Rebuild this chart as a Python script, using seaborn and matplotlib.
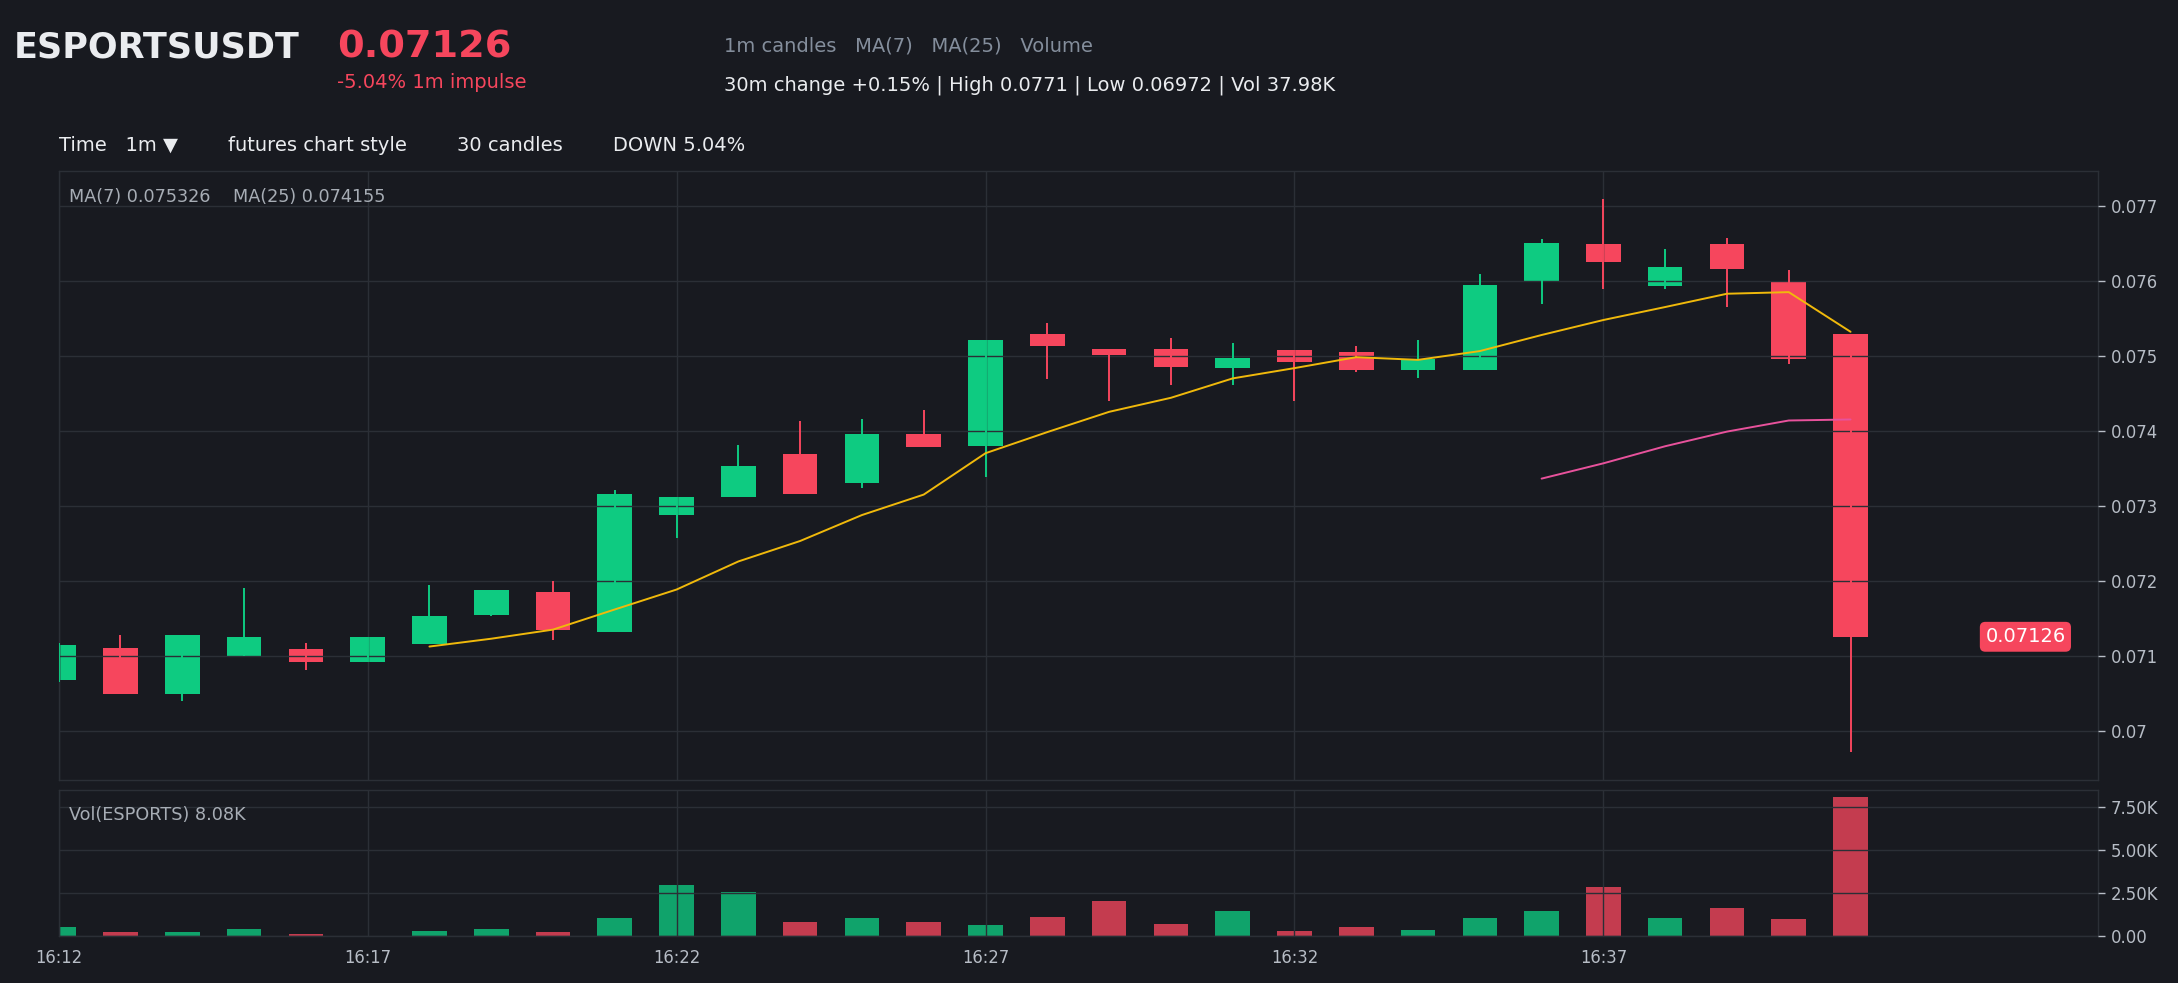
import numpy as np
import pandas as pd
import seaborn as sns
import matplotlib.pyplot as plt
from matplotlib.ticker import FuncFormatter, MultipleLocator

# 1m candles, 16:12 .. 16:41
times = ["16:12", "16:13", "16:14", "16:15", "16:16", "16:17", "16:18", "16:19", "16:20", "16:21",
         "16:22", "16:23", "16:24", "16:25", "16:26", "16:27", "16:28", "16:29", "16:30", "16:31",
         "16:32", "16:33", "16:34", "16:35", "16:36", "16:37", "16:38", "16:39", "16:40", "16:41"]
opens = [0.07068, 0.07111, 0.07050, 0.07100, 0.07110, 0.07092, 0.07116, 0.07155, 0.07186, 0.07133,
         0.07288, 0.07313, 0.07369, 0.07331, 0.07396, 0.07380, 0.07529, 0.07510, 0.07510, 0.07484,
         0.07508, 0.07505, 0.07481, 0.07481, 0.07600, 0.07650, 0.07594, 0.07650, 0.07599, 0.07530]
closes = [0.07115, 0.07050, 0.07128, 0.07126, 0.07092, 0.07126, 0.07154, 0.07188, 0.07135, 0.07316,
          0.07312, 0.07354, 0.07317, 0.07396, 0.07379, 0.07521, 0.07513, 0.07501, 0.07485, 0.07498,
          0.07492, 0.07481, 0.07496, 0.07595, 0.07651, 0.07625, 0.07619, 0.07616, 0.07496, 0.07126]
highs = [0.07118, 0.07128, 0.07128, 0.07191, 0.07118, 0.07126, 0.07195, 0.07188, 0.07200, 0.07322,
         0.07312, 0.07381, 0.07413, 0.07416, 0.07428, 0.07521, 0.07544, 0.07510, 0.07524, 0.07517,
         0.07508, 0.07513, 0.07521, 0.07609, 0.07656, 0.07710, 0.07643, 0.07658, 0.07615, 0.07530]
lows = [0.07066, 0.07050, 0.07040, 0.07100, 0.07082, 0.07092, 0.07116, 0.07154, 0.07122, 0.07132,
        0.07258, 0.07313, 0.07317, 0.07324, 0.07379, 0.07339, 0.07469, 0.07440, 0.07461, 0.07461,
        0.07440, 0.07479, 0.07471, 0.07481, 0.07570, 0.07589, 0.07590, 0.07566, 0.07490, 0.06972]
volumes = [525, 233, 233, 408, 117, 20, 291, 408, 233, 1049,
           2973, 2565, 816, 1049, 816, 641, 1108, 2040, 700, 1457,
           291, 525, 350, 1049, 1457, 2856, 1049, 1632, 991, 8080]

BG = '#181a20'
GRID = '#2b2f36'
UP = '#0ecb81'
DOWN = '#f6465d'
MA7_C = '#f0b90b'
MA25_C = '#e8529c'
TICK_C = '#b7bdc6'
MUTED = '#848e9c'
LIGHT = '#eaecef'

sns.set_theme(style='dark', rc={'axes.facecolor': BG, 'figure.facecolor': BG,
                                'axes.edgecolor': GRID, 'grid.color': GRID,
                                'text.color': LIGHT, 'xtick.color': TICK_C, 'ytick.color': TICK_C})
plt.rcParams['font.family'] = ['DejaVu Sans']

df = pd.DataFrame({'t': times, 'open': opens, 'close': closes, 'high': highs,
                   'low': lows, 'volume': volumes})
df['x'] = np.arange(len(df))
df['dir'] = np.where(df['close'] >= df['open'], 'up', 'down')
df['ma7'] = df['close'].rolling(7).mean()
df['ma25'] = df['close'].rolling(25).mean()
pal = {'up': UP, 'down': DOWN}

W, H = 2178, 983
fig = plt.figure(figsize=(W / 100, H / 100), dpi=100, facecolor=BG)


def fx(px):
    return px / W


def fy(py):
    return 1 - py / H


axp = fig.add_axes([fx(58.7), fy(780), fx(2039), (780 - 171) / H])
axv = fig.add_axes([fx(58.7), fy(936), fx(2039), (936 - 790) / H])

# candles: bodies under the grid, wicks above it
cols = df['dir'].map(pal)
axp.vlines(df['x'], df['low'], df['high'], colors=cols, lw=1.4, zorder=3)
body_lo = df[['open', 'close']].min(axis=1)
body_h = (df['close'] - df['open']).abs().clip(lower=0.00002)
axp.bar(df['x'], body_h, bottom=body_lo, width=0.56, color=cols, linewidth=0, zorder=1)
sns.lineplot(data=df, x='x', y='ma7', color=MA7_C, lw=1.4, ax=axp, zorder=4)
sns.lineplot(data=df, x='x', y='ma25', color=MA25_C, lw=1.4, ax=axp, zorder=4)

# volume
sns.barplot(data=df, x='x', y='volume', hue='dir', palette=pal, native_scale=True,
            width=0.56, dodge=False, errorbar=None, legend=False, alpha=0.78,
            saturation=1, linewidth=0, ax=axv)

lo, hi = min(lows), max(highs)
pad = 0.05 * (hi - lo)
axp.set_ylim(lo - pad, hi + pad)
axp.yaxis.set_major_locator(MultipleLocator(0.001))
axp.yaxis.set_major_formatter(FuncFormatter(lambda v, p: f'{v:g}'))
axv.set_ylim(0, max(volumes) * 1.05)
axv.set_yticks([0, 2500, 5000, 7500])
axv.yaxis.set_major_formatter(FuncFormatter(lambda v, p: '0.00' if v == 0 else f'{v / 1000:.2f}K'))

for ax in (axp, axv):
    ax.set_facecolor(BG)
    ax.set_xlim(0, 33)
    ax.set_xticks(df['x'][::5])
    ax.grid(True, color=GRID, lw=1)
    ax.set_axisbelow(False)
    ax.yaxis.tick_right()
    for s in ax.spines.values():
        s.set_visible(True)
        s.set_color(GRID)
        s.set_linewidth(1)
    ax.tick_params(colors=TICK_C, labelsize=11.9, length=4.8, width=1, pad=4.5, direction='out')
    ax.set_xlabel('')
    ax.set_ylabel('')
axp.tick_params(axis='x', labelbottom=False)
axv.set_xticklabels(times[::5])

# last price tag
axp.text(31.83, closes[-1], '0.07126', color='white', fontsize=14, ha='center', va='center',
         bbox=dict(boxstyle='round,pad=0.28', facecolor=DOWN, edgecolor='none'), zorder=6)

axp.text(fx(69 - 58.7) / fx(2039), 1 - (197.5 - 171) / (780 - 171),
         'MA(7) 0.075326    MA(25) 0.074155',
         transform=axp.transAxes, color='#a7adb5', fontsize=12.7, va='center', ha='left')
axv.text(fx(69 - 58.7) / fx(2039), 1 - (814.5 - 790) / (936 - 790),
         'Vol(ESPORTS) 8.08K',
         transform=axv.transAxes, color='#a7adb5', fontsize=12.7, va='center', ha='left')

# header
fig.text(fx(14), fy(58), 'ESPORTSUSDT', fontsize=25.2, fontweight='bold', color=LIGHT, va='baseline')
fig.text(fx(337), fy(58), '0.07126', fontsize=27.5, fontweight='bold', color=DOWN, va='baseline')
fig.text(fx(337), fy(83), '-5.04% 1m impulse', fontsize=14, color=DOWN, va='center')
fig.text(fx(724), fy(46.5), '1m candles   MA(7)   MA(25)   Volume', fontsize=14, color=MUTED, va='center')
fig.text(fx(724), fy(85), '30m change +0.15% | High 0.0771 | Low 0.06972 | Vol 37.98K',
         fontsize=14, color=LIGHT, va='center')
fig.text(fx(59), fy(145.5), 'Time   1m \u25bc', fontsize=14, color=LIGHT, va='center')
fig.text(fx(228), fy(145.5), 'futures chart style', fontsize=14, color=LIGHT, va='center')
fig.text(fx(457), fy(145.5), '30 candles', fontsize=14, color=LIGHT, va='center')
fig.text(fx(613), fy(145.5), 'DOWN 5.04%', fontsize=14, color=LIGHT, va='center')

fig.savefig('out.png', dpi=100, facecolor=BG)
